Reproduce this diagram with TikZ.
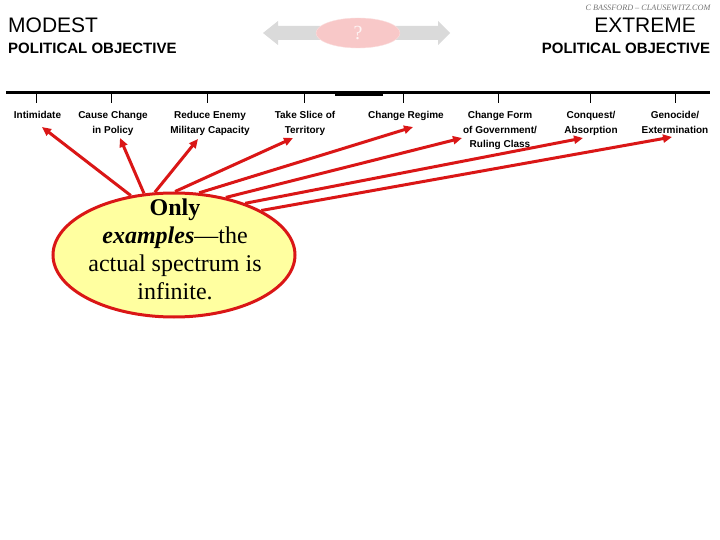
\documentclass[tikz,border=0pt]{standalone}
\usepackage{fontspec}
\setmainfont{Liberation Serif}
\newfontfamily\arial{Liberation Sans}
\usetikzlibrary{shapes.geometric,arrows.meta}
\definecolor{arrred}{RGB}{218,22,22}
\definecolor{ellfill}{RGB}{255,255,160}
\definecolor{pinkq}{RGB}{248,200,200}
\definecolor{greyarr}{RGB}{218,218,218}
\tikzset{
  lab/.style={font=\arial\bfseries\fontsize{10}{14.5}\selectfont, align=center, anchor=north, inner sep=0pt},
  big/.style={font=\arial\fontsize{21}{24}\selectfont, inner sep=0pt},
  sub/.style={font=\arial\bfseries\fontsize{15}{18}\selectfont, inner sep=0pt},
  pointer/.style={draw=arrred, line width=3pt, -{Triangle[length=9pt,width=8pt]}},
  tick/.style={draw=black, line width=1pt}
}
\begin{document}
\begin{tikzpicture}[x=1pt,y=-1pt]
\useasboundingbox[fill=white] (0,0) rectangle (720,540);
% headings
\node[big, anchor=base west] (modest) at (8,33) {MODEST};
\node[sub, anchor=base west] (pol1) at (8,54) {POLITICAL OBJECTIVE};
\node[big, anchor=base] (extreme) at (645,33) {EXTREME};
\node[sub, anchor=base] (pol2) at (626,54) {POLITICAL OBJECTIVE};
\node[font=\itshape\fontsize{8.2}{9}\selectfont, text=black!55, inner sep=0pt] (copy) at (648,8) {C BASSFORD -- CLAUSEWITZ.COM};
% faded double arrow with question mark
\fill[greyarr] (263,33) -- (278,21) -- (278,26) -- (438,26) -- (438,21) -- (450,33) -- (438,45) -- (438,40) -- (278,40) -- (278,45) -- cycle;
\node[ellipse, fill=pinkq, draw=pinkq!60, minimum width=84pt, minimum height=30pt, inner sep=0pt, text=pinkq!20, font=\fontsize{20}{22}\selectfont] (q) at (358,33) {?};
% spectrum line
\draw[line width=3pt] (6,92.5) -- (710,92.5);
\fill (335,91) rectangle (383,96);
\foreach \x in {36,111,207,304,403,498,590,675} \draw[tick] (\x,94) -- (\x,103);
% labels
\node[lab] (l1) at (37.5,111.5) {Intimidate};
\node[lab] (l2) at (113,111.5) {Cause Change\\in Policy};
\node[lab] (l3) at (210,111.5) {Reduce Enemy\\Military Capacity};
\node[lab] (l4) at (305,111.5) {Take Slice of\\Territory};
\node[lab] (l5) at (406,111.5) {Change Regime};
\node[lab] (l6) at (500,111.5) {Change Form\\of Government/\\Ruling Class};
\node[lab] (l7) at (591,111.5) {Conquest/\\Absorption};
\node[lab] (l8) at (675,111.5) {Genocide/\\Extermination};
% arrow tips
\coordinate (t1) at (42,127);
\coordinate (t2) at (120,138);
\coordinate (t3) at (198,139);
\coordinate (t4) at (293,138);
\coordinate (t5) at (413,127);
\coordinate (t6) at (462,138);
\coordinate (t7) at (583,138);
\coordinate (t8) at (672,137);
% ellipse
\node[ellipse, draw=arrred, fill=ellfill, line width=3pt, minimum width=242pt, minimum height=124pt, inner sep=0pt] (ell) at (174,255) {};
\foreach \a/\t in {126/t1,116/t2,107/t3,89/t4,68/t5,48/t6,36/t7,27/t8}
  \draw[pointer] (ell.\a) -- (\t);
\node[font=\fontsize{24}{28}\selectfont, align=center, anchor=north, inner sep=0pt] (etext) at (175,198.5)
  {\textbf{Only}\\\textbf{\textit{examples}}---the\\actual spectrum is\\infinite.};
\end{tikzpicture}
\end{document}
